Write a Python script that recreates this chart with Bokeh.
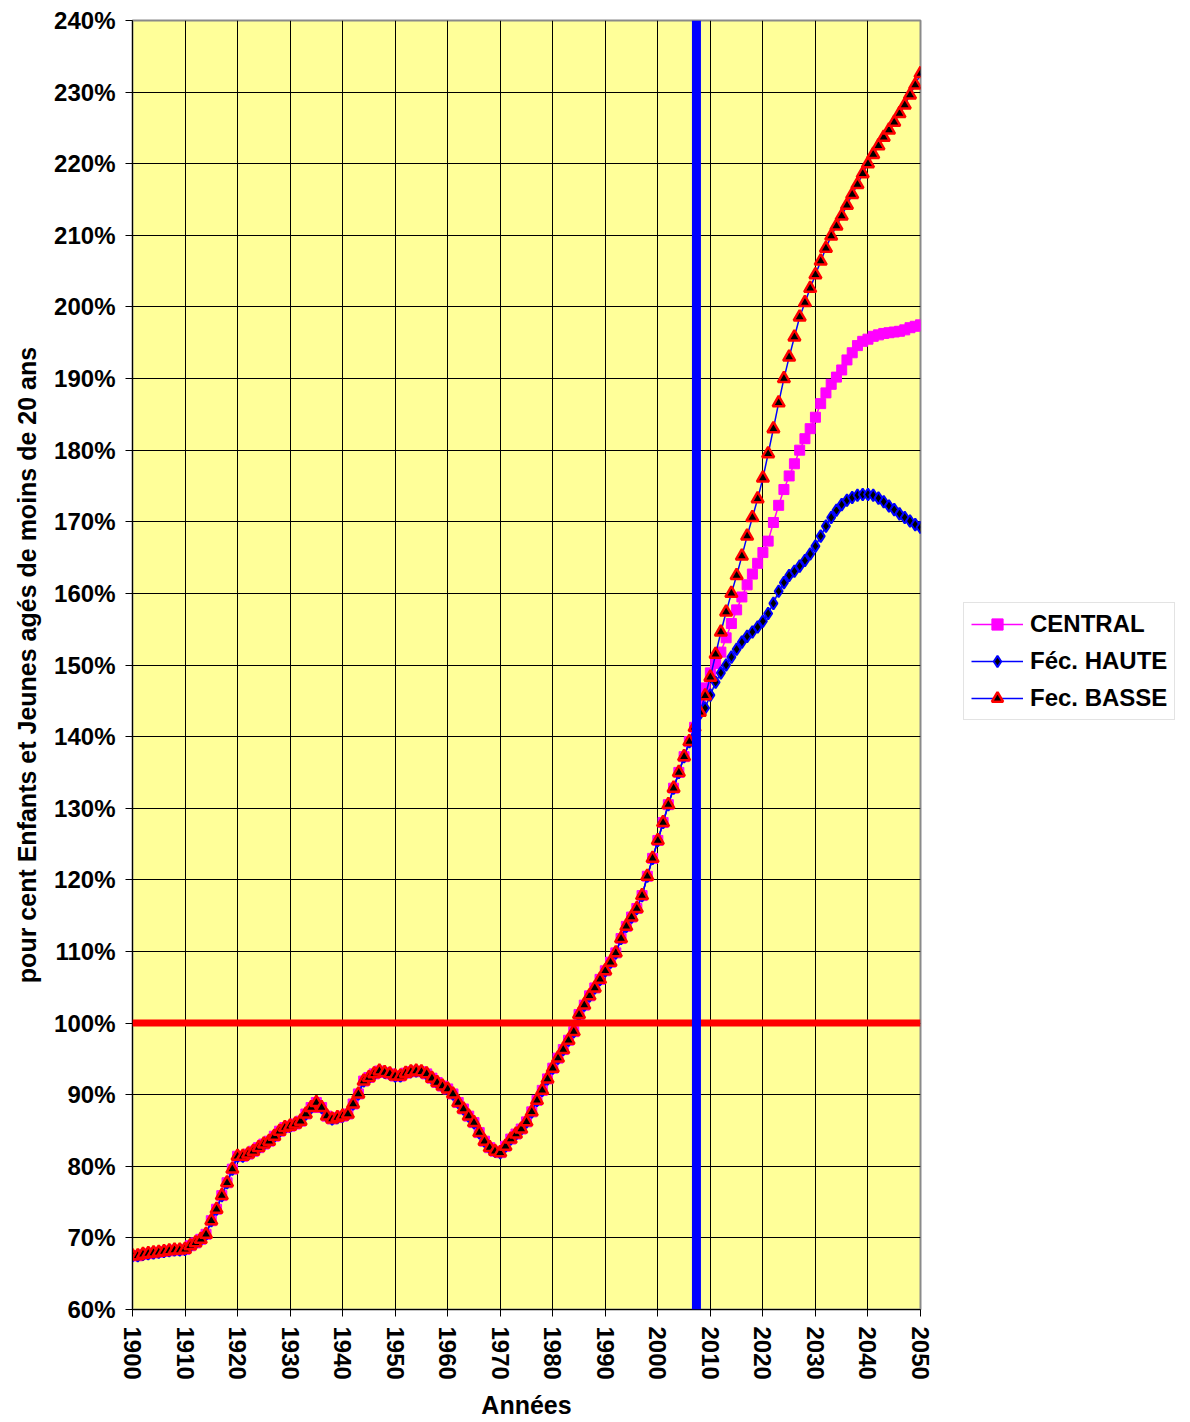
import numpy as np
from bokeh.plotting import figure
from bokeh.models import (Range1d, FixedTicker, PrintfTickFormatter, Span, Legend,
                          LegendItem, ColumnDataSource)
from bokeh.embed import file_html
from bokeh.resources import INLINE

# ---------------- data ----------------
years = list(range(1900, 2051))

hist_values = [
    67.5, 67.5, 67.7, 67.8, 67.9, 68.0, 68.1, 68.2, 68.3, 68.3,
    68.4, 68.9, 69.3, 69.8, 70.5, 72.4, 74.0, 75.9, 77.7, 79.6,
    81.4, 81.4, 81.7, 82.1, 82.6, 83.1, 83.5, 84.2, 84.9, 85.4,
    85.6, 85.9, 86.3, 87.3, 88.2, 88.9, 88.2, 87.0, 86.6, 86.8,
    87.0, 87.3, 88.7, 90.1, 91.9, 92.4, 92.9, 93.3, 93.1, 92.9,
    92.6, 92.6, 93.0, 93.2, 93.3, 93.2, 92.9, 92.3, 91.7, 91.2,
    90.8, 90.1, 88.9, 88.0, 87.0, 86.1, 84.7, 83.5, 82.6, 82.1,
    81.9, 82.8, 83.8, 84.5, 85.2, 86.2, 87.6, 89.2, 90.6, 92.2,
    93.7, 95.1, 96.3, 97.6, 98.8, 101.2, 102.5, 103.8, 104.9, 106.1,
    107.3, 108.5, 109.8, 111.8, 113.5, 114.8, 116.0, 117.8, 120.5, 123.0,
    125.5, 128.0, 130.5, 132.8, 135.0, 137.2, 139.3, 141.3,
]

central_proj = [
    144.5, 146.8, 148.9, 150.2, 151.8, 153.8, 155.8, 157.7, 159.5, 161.2,
    162.7, 164.2, 165.7, 167.3, 169.9, 172.3, 174.5, 176.4, 178.1, 180.0,
    181.6, 183.0, 184.6, 186.5, 188.0, 189.2, 190.2, 191.2, 192.6, 193.6,
    194.6, 195.2, 195.5, 195.9, 196.1, 196.3, 196.4, 196.5, 196.6, 196.8,
    197.1, 197.3, 197.5,
]

haute_proj = [
    143.2, 144.0, 145.8, 147.6, 148.9, 150.0, 151.1, 152.2, 153.2, 154.0,
    154.6, 155.3, 156.1, 157.2, 158.6, 160.3, 161.5, 162.5, 163.1, 163.8,
    164.6, 165.5, 166.6, 168.0, 169.4, 170.6, 171.6, 172.4, 173.0, 173.4,
    173.7, 173.8, 173.8, 173.7, 173.3, 172.8, 172.2, 171.7, 171.1, 170.6,
    170.1, 169.6, 169.2,
]

basse_proj = [
    143.4, 145.7, 148.3, 151.5, 154.6, 157.4, 160.0, 162.5, 165.2, 168.0,
    170.6, 173.2, 176.1, 179.5, 183.0, 186.6, 190.0, 193.0, 195.8, 198.6,
    200.6, 202.6, 204.5, 206.4, 208.2, 209.9, 211.3, 212.7, 214.2, 215.7,
    217.1, 218.6, 220.0, 221.3, 222.5, 223.7, 224.7, 225.8, 227.0, 228.2,
    229.6, 231.0, 232.6,
]

series_names = ["CENTRAL", "Féc. HAUTE", "Fec. BASSE"]
x_ticks = list(range(1900, 2051, 10))
y_ticks = list(range(60, 241, 10))
reference_year = 2007.35
reference_level = 100

central = hist_values + central_proj
haute = hist_values + haute_proj
basse = hist_values + basse_proj

# ---------------- figure ----------------
FONT = "Liberation Sans"

p = figure(frame_width=788, frame_height=1289,
           x_range=Range1d(1900, 2050), y_range=Range1d(60, 240),
           output_backend="svg", toolbar_location=None,
           min_border_left=132, min_border_top=20, min_border_bottom=105,
           min_border_right=262)

p.background_fill_color = "#FFFF99"
p.border_fill_color = "white"
p.outline_line_color = "#8a8a8a"
p.outline_line_width = 2

for g, t in ((p.xgrid, x_ticks), (p.ygrid, y_ticks)):
    g.ticker = FixedTicker(ticks=t)
    g.grid_line_color = "black"
    g.grid_line_width = 1

p.xaxis.ticker = FixedTicker(ticks=x_ticks)
p.yaxis.ticker = FixedTicker(ticks=y_ticks)
p.yaxis.formatter = PrintfTickFormatter(format="%d%%")
p.xaxis.major_label_orientation = "vertical"

for ax in (p.xaxis[0], p.yaxis[0]):
    ax.axis_line_color = "black"
    ax.axis_line_width = 1
    ax.major_tick_line_color = "black"
    ax.major_tick_out = 7
    ax.major_tick_in = 0
    ax.minor_tick_line_color = None
    ax.major_label_text_font = FONT
    ax.major_label_text_font_style = "bold"
    ax.major_label_text_font_size = "24px"
    ax.major_label_text_color = "black"
    ax.major_label_standoff = 10
    ax.axis_label_text_font = FONT
    ax.axis_label_text_font_style = "bold"
    ax.axis_label_text_font_size = "25px"
    ax.axis_label_text_color = "black"

p.xaxis.axis_label = "Années"
p.xaxis.axis_label_standoff = 8
p.yaxis.axis_label = "pour cent Enfants et Jeunes agés de moins de 20 ans"
p.yaxis.axis_label_standoff = 10

src = ColumnDataSource(dict(year=years, central=central, haute=haute, basse=basse))

l_c = p.line("year", "central", source=src, line_color="#FF00FF", line_width=1.5)
m_c = p.scatter("year", "central", source=src, marker="square", size=10,
                fill_color="#FF00FF", line_color="#FF00FF", line_width=1)

l_h = p.line("year", "haute", source=src, line_color="#0000FF", line_width=1.5)
m_h = p.scatter("year", "haute", source=src, marker="diamond", size=12,
                fill_color="black", line_color="#0000FF", line_width=2)

l_b = p.line("year", "basse", source=src, line_color="#0000FF", line_width=1.5)
m_b = p.scatter("year", "basse", source=src, marker="triangle", size=12,
                fill_color="black", line_color="#FF0000", line_width=2.5)

p.add_layout(Span(location=reference_level, dimension="width",
                  line_color="#FF0000", line_width=7))
p.add_layout(Span(location=reference_year, dimension="height",
                  line_color="#0000FF", line_width=9))

legend = Legend(items=[
    LegendItem(label=series_names[0], renderers=[l_c, m_c]),
    LegendItem(label=series_names[1], renderers=[l_h, m_h]),
    LegendItem(label=series_names[2], renderers=[l_b, m_b]),
], location=(43, 589))
legend.label_text_font = FONT
legend.label_text_font_style = "bold"
legend.label_text_font_size = "24px"
legend.label_text_color = "black"
legend.glyph_width = 52
legend.glyph_height = 28
legend.label_standoff = 7
legend.spacing = 9
legend.padding = 7
legend.margin = 0
legend.border_line_color = "#c8c8c8"
legend.border_line_width = 1.5
legend.background_fill_color = "white"
legend.background_fill_alpha = 1
p.add_layout(legend, "right")

open("out.html", "w").write(file_html(p, INLINE))
